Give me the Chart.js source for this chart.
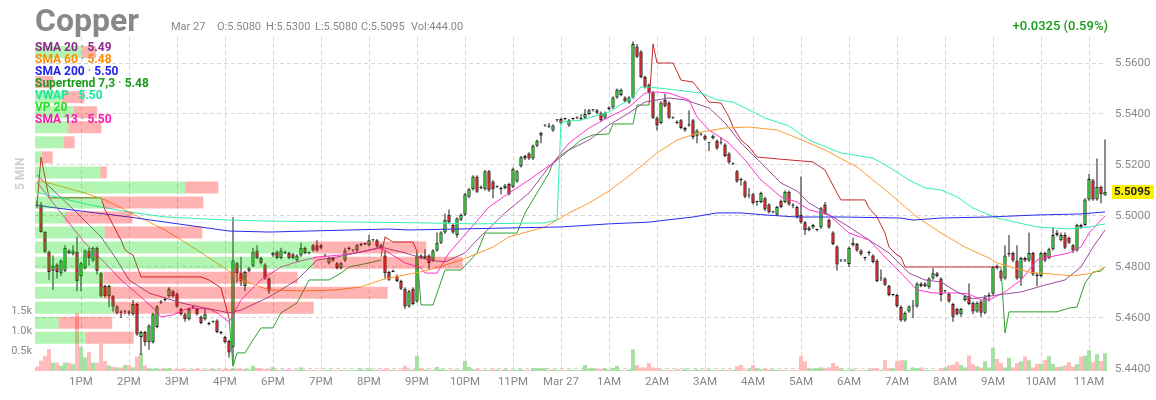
<!DOCTYPE html>
<html>
<head>
<meta charset="utf-8">
<script src="https://cdn.jsdelivr.net/npm/chart.js@4.4.1/dist/chart.umd.min.js"></script>
<style>
  body { margin: 0; background: #fff; font-family: Roboto, sans-serif; }
  #wrap { position: relative; width: 1156px; height: 400px; overflow: hidden; }
  canvas { position: absolute; left: 0; top: 0; }
  .t { position: absolute; white-space: nowrap; }
  #title { left: 35px; top: 4px; font: bold 32px/32px Roboto; color: #888; }
  .info { top: 21px; font: 11px/11px Roboto; color: #888; }
  #chg { right: 48px; top: 19px; font: 500 13px/13px Roboto; color: #1a9c1a; }
  #legend { left: 35px; top: 41px; font: bold 12px/12px Roboto; }
  #legend .dot { color: #aaa; }
  #tf { left: 1px; top: 165px; font: bold 12px/12px Roboto; color: #d0d0d0; transform: rotate(-90deg); transform-origin: 19px 6px; }
</style>
</head>
<body>
<div id="wrap">
  <canvas id="chart" width="1156" height="400"></canvas>
  <div class="t" id="title">Copper</div>
  <div class="t info" style="left:171px">Mar 27</div>
  <div class="t info" style="left:217px">O:5.5080</div>
  <div class="t info" style="left:266px">H:5.5300</div>
  <div class="t info" style="left:315px">L:5.5080</div>
  <div class="t info" style="left:361px">C:5.5095</div>
  <div class="t info" style="left:411px">Vol:444.00</div>
  <div class="t" id="chg">+0.0325 (0.59%)</div>
  <div class="t" id="tf">5 MIN</div>
  <div class="t" id="legend">
    <div style="color:#8b2f8b">SMA 20 <span class="dot">·</span> 5.49</div>
    <div style="color:#ff8c00">SMA 60 <span class="dot">·</span> 5.48</div>
    <div style="color:#2222ee">SMA 200 <span class="dot">·</span> 5.50</div>
    <div style="color:#1a9a1a">Supertrend 7,3 <span class="dot">·</span> 5.48</div>
    <div style="color:#1ee8a0">VWAP <span class="dot">·</span> 5.50</div>
    <div style="color:#22e022">VP 20</div>
    <div style="color:#ff1ab3">SMA 13 <span class="dot">·</span> 5.50</div>
  </div>
</div>
<script>
// 5 minute bars: 12:05-16:55, then 18:00-11:20
const sessions = [['12:05', 59], ['18:00', 209]];

const opens = [
  5.5045,5.5043,5.4937,5.4860,5.4785,5.4810,5.4775,5.4785,5.4865,5.4850,5.4860,
  5.4765,5.4795,5.4865,5.4825,5.4875,5.4775,5.4725,5.4685,5.4685,5.4620,5.4625,5.4625,
  5.4625,5.4615,5.4655,5.4525,5.4545,5.4505,5.4505,5.4565,5.4665,5.4670,5.4685,5.4705,
  5.4695,5.4635,5.4615,5.4595,5.4645,5.4635,5.4605,5.4595,5.4580,5.4585,5.4590,5.4545,
  5.4525,5.4510,5.4485,5.4815,5.4775,5.4725,5.4785,5.4805,5.4865,5.4835,5.4810,5.4755,
  5.4845,5.4860,5.4835,5.4860,5.4855,5.4850,5.4825,5.4845,5.4875,5.4855,5.4885,5.4885,
  5.4885,5.4845,5.4815,5.4835,5.4815,5.4795,5.4825,5.4870,5.4865,5.4865,5.4885,5.4890,
  5.4885,5.4905,5.4905,5.4885,5.4845,5.4780,5.4780,5.4765,5.4745,5.4715,5.4645,5.4715,
  5.4665,5.4845,5.4835,5.4845,5.4825,5.4865,5.4895,5.4935,5.5005,5.4965,5.4925,5.4985,
  5.5005,5.5075,5.5105,5.5155,5.5115,5.5105,5.5175,5.5135,5.5115,5.5110,5.5110,5.5125,
  5.5115,5.5135,5.5195,5.5235,5.5245,5.5225,5.5275,5.5315,5.5355,5.5355,5.5335,5.5375,
  5.5380,5.5380,5.5355,5.5380,5.5385,5.5380,5.5385,5.5400,5.5415,5.5415,5.5405,5.5385,
  5.5420,5.5425,5.5465,5.5475,5.5465,5.5445,5.5465,5.5665,5.5645,5.5545,5.5515,5.5485,
  5.5385,5.5365,5.5455,5.5445,5.5385,5.5370,5.5375,5.5335,5.5355,5.5375,5.5315,5.5320,
  5.5315,5.5285,5.5305,5.5295,5.5285,5.5280,5.5245,5.5205,5.5175,5.5145,5.5135,5.5080,
  5.5085,5.5055,5.5055,5.5070,5.5045,5.5015,5.5005,5.5060,5.5055,5.5095,5.5045,5.5035,
  5.5005,5.4975,5.4945,5.4955,5.4945,5.4955,5.5045,5.4985,5.4935,5.4880,5.4825,5.4825,
  5.4812,5.4885,5.4890,5.4865,5.4835,5.4855,5.4845,5.4825,5.4755,5.4755,5.4725,5.4690,
  5.4690,5.4643,5.4590,5.4625,5.4645,5.4645,5.4735,5.4725,5.4720,5.4755,5.4775,5.4755,
  5.4705,5.4695,5.4655,5.4635,5.4615,5.4670,5.4685,5.4660,5.4625,5.4665,5.4620,5.4685,
  5.4695,5.4805,5.4785,5.4755,5.4850,5.4855,5.4825,5.4755,5.4835,5.4825,5.4855,5.4770,
  5.4765,5.4855,5.4835,5.4870,5.4935,5.4905,5.4925,5.4915,5.4885,5.4865,5.4965,5.4965,
  5.5065,5.5140,5.5065,5.5115,5.5080
];
const highs = [
  5.5060,5.5055,5.4940,5.4865,5.4845,5.4815,5.4830,5.4885,5.4870,5.4885,5.4920,
  5.4820,5.4870,5.4875,5.4880,5.4880,5.4780,5.4730,5.4730,5.4690,5.4650,5.4630,5.4630,
  5.4630,5.4670,5.4660,5.4550,5.4550,5.4575,5.4620,5.4650,5.4670,5.4680,5.4720,5.4710,
  5.4700,5.4640,5.4620,5.4640,5.4650,5.4640,5.4610,5.4640,5.4585,5.4590,5.4595,5.4550,
  5.4530,5.4515,5.4995,5.4820,5.4840,5.4785,5.4800,5.4875,5.4885,5.4840,5.4815,5.4760,
  5.4860,5.4865,5.4875,5.4865,5.4860,5.4855,5.4850,5.4895,5.4880,5.4860,5.4890,5.4905,
  5.4890,5.4850,5.4840,5.4840,5.4820,5.4820,5.4875,5.4880,5.4870,5.4890,5.4895,5.4895,
  5.4925,5.4910,5.4910,5.4890,5.4865,5.4785,5.4790,5.4770,5.4750,5.4720,5.4710,5.4720,
  5.4860,5.4850,5.4870,5.4850,5.4870,5.4935,5.4940,5.5010,5.5025,5.4970,5.4995,5.5010,
  5.5090,5.5110,5.5160,5.5160,5.5120,5.5180,5.5180,5.5140,5.5120,5.5115,5.5125,5.5130,
  5.5190,5.5180,5.5235,5.5240,5.5250,5.5280,5.5300,5.5330,5.5360,5.5365,5.5360,5.5380,
  5.5385,5.5385,5.5380,5.5385,5.5390,5.5400,5.5420,5.5420,5.5420,5.5420,5.5410,5.5410,
  5.5430,5.5470,5.5500,5.5500,5.5470,5.5470,5.5685,5.5675,5.5650,5.5550,5.5520,5.5490,
  5.5390,5.5450,5.5480,5.5450,5.5390,5.5375,5.5380,5.5350,5.5415,5.5380,5.5340,5.5325,
  5.5320,5.5290,5.5320,5.5300,5.5310,5.5285,5.5250,5.5210,5.5180,5.5150,5.5140,5.5110,
  5.5090,5.5060,5.5095,5.5075,5.5050,5.5020,5.5040,5.5065,5.5100,5.5100,5.5050,5.5040,
  5.5155,5.4980,5.4960,5.4970,5.4950,5.5035,5.5055,5.4990,5.4940,5.4885,5.4830,5.4830,
  5.4880,5.4915,5.4895,5.4870,5.4840,5.4865,5.4850,5.4830,5.4790,5.4760,5.4730,5.4695,
  5.4695,5.4650,5.4625,5.4650,5.4670,5.4740,5.4740,5.4740,5.4760,5.4795,5.4780,5.4760,
  5.4710,5.4700,5.4660,5.4640,5.4640,5.4690,5.4735,5.4665,5.4665,5.4670,5.4690,5.4700,
  5.4805,5.4810,5.4790,5.4885,5.4925,5.4860,5.4885,5.4840,5.4840,5.4935,5.4860,5.4775,
  5.4860,5.4860,5.4875,5.4955,5.4945,5.4935,5.4935,5.4920,5.4890,5.4970,5.4970,5.5070,
  5.5165,5.5145,5.5225,5.5120,5.5300
];
const lows = [
  5.5030,5.4935,5.4855,5.4750,5.4710,5.4755,5.4765,5.4780,5.4850,5.4845,5.4705,
  5.4705,5.4790,5.4805,5.4820,5.4770,5.4680,5.4680,5.4643,5.4625,5.4615,5.4600,5.4615,
  5.4610,5.4610,5.4530,5.4455,5.4490,5.4475,5.4500,5.4560,5.4655,5.4665,5.4680,5.4680,
  5.4640,5.4610,5.4585,5.4590,5.4635,5.4610,5.4575,5.4590,5.4570,5.4580,5.4540,5.4535,
  5.4500,5.4445,5.4415,5.4740,5.4725,5.4705,5.4780,5.4800,5.4830,5.4810,5.4750,5.4695,
  5.4840,5.4830,5.4830,5.4850,5.4830,5.4830,5.4820,5.4840,5.4850,5.4850,5.4860,5.4860,
  5.4870,5.4840,5.4810,5.4820,5.4790,5.4790,5.4820,5.4865,5.4860,5.4860,5.4880,5.4885,
  5.4880,5.4900,5.4875,5.4870,5.4755,5.4745,5.4780,5.4740,5.4710,5.4635,5.4640,5.4650,
  5.4660,5.4830,5.4830,5.4790,5.4820,5.4860,5.4890,5.4930,5.4970,5.4930,5.4915,5.4980,
  5.5000,5.5070,5.5100,5.5090,5.5105,5.5100,5.5095,5.5070,5.5110,5.5085,5.5105,5.5080,
  5.5110,5.5130,5.5190,5.5220,5.5220,5.5220,5.5270,5.5285,5.5350,5.5345,5.5330,5.5370,
  5.5360,5.5375,5.5350,5.5375,5.5380,5.5375,5.5380,5.5395,5.5410,5.5400,5.5370,5.5380,
  5.5415,5.5420,5.5460,5.5470,5.5445,5.5440,5.5460,5.5620,5.5540,5.5500,5.5480,5.5380,
  5.5335,5.5360,5.5425,5.5380,5.5380,5.5360,5.5340,5.5330,5.5350,5.5300,5.5285,5.5315,
  5.5295,5.5255,5.5300,5.5260,5.5280,5.5230,5.5205,5.5200,5.5130,5.5120,5.5070,5.5070,
  5.5045,5.5040,5.5050,5.5020,5.5010,5.5010,5.5000,5.5030,5.5050,5.5040,5.5030,5.4990,
  5.4970,5.4925,5.4940,5.4950,5.4940,5.4950,5.5005,5.4950,5.4885,5.4785,5.4820,5.4820,
  5.4800,5.4880,5.4860,5.4845,5.4825,5.4845,5.4815,5.4740,5.4745,5.4725,5.4685,5.4685,
  5.4640,5.4585,5.4585,5.4620,5.4600,5.4640,5.4720,5.4720,5.4715,5.4750,5.4760,5.4665,
  5.4700,5.4660,5.4585,5.4610,5.4605,5.4665,5.4650,5.4615,5.4620,5.4605,5.4615,5.4665,
  5.4690,5.4790,5.4745,5.4750,5.4840,5.4820,5.4750,5.4725,5.4820,5.4820,5.4765,5.4725,
  5.4760,5.4820,5.4830,5.4865,5.4920,5.4900,5.4870,5.4890,5.4855,5.4860,5.4950,5.4960,
  5.5060,5.5060,5.5060,5.5050,5.5080
];
const closes = [
  5.5040,5.4937,5.4860,5.4780,5.4805,5.4780,5.4825,5.4875,5.4855,5.4865,5.4745,
  5.4815,5.4865,5.4835,5.4875,5.4785,5.4685,5.4685,5.4725,5.4645,5.4645,5.4620,5.4625,
  5.4620,5.4655,5.4535,5.4545,5.4505,5.4570,5.4615,5.4645,5.4660,5.4675,5.4715,5.4685,
  5.4645,5.4615,5.4595,5.4635,5.4640,5.4615,5.4580,5.4615,5.4575,5.4585,5.4545,5.4540,
  5.4505,5.4465,5.4825,5.4775,5.4745,5.4780,5.4795,5.4860,5.4835,5.4815,5.4755,5.4705,
  5.4855,5.4835,5.4865,5.4855,5.4835,5.4835,5.4845,5.4875,5.4855,5.4855,5.4865,5.4865,
  5.4875,5.4845,5.4835,5.4825,5.4795,5.4815,5.4865,5.4875,5.4865,5.4885,5.4890,5.4890,
  5.4905,5.4905,5.4880,5.4875,5.4775,5.4750,5.4785,5.4745,5.4715,5.4645,5.4705,5.4655,
  5.4845,5.4835,5.4845,5.4815,5.4865,5.4895,5.4935,5.4985,5.4975,5.4935,5.4990,5.5005,
  5.5085,5.5105,5.5155,5.5095,5.5110,5.5175,5.5100,5.5105,5.5115,5.5105,5.5120,5.5085,
  5.5185,5.5175,5.5230,5.5225,5.5225,5.5275,5.5295,5.5325,5.5355,5.5350,5.5355,5.5375,
  5.5365,5.5380,5.5375,5.5380,5.5385,5.5380,5.5400,5.5415,5.5415,5.5405,5.5375,5.5405,
  5.5425,5.5465,5.5495,5.5495,5.5450,5.5465,5.5675,5.5625,5.5545,5.5505,5.5485,5.5385,
  5.5355,5.5445,5.5430,5.5385,5.5385,5.5365,5.5345,5.5345,5.5360,5.5310,5.5335,5.5320,
  5.5300,5.5285,5.5315,5.5265,5.5285,5.5235,5.5210,5.5205,5.5135,5.5140,5.5075,5.5080,
  5.5050,5.5055,5.5090,5.5025,5.5015,5.5015,5.5035,5.5035,5.5095,5.5045,5.5040,5.4995,
  5.4975,5.4945,5.4955,5.4965,5.4945,5.5030,5.5010,5.4955,5.4890,5.4810,5.4825,5.4825,
  5.4875,5.4895,5.4865,5.4850,5.4835,5.4855,5.4820,5.4745,5.4755,5.4730,5.4690,5.4690,
  5.4647,5.4590,5.4620,5.4645,5.4645,5.4735,5.4725,5.4735,5.4755,5.4775,5.4765,5.4690,
  5.4705,5.4665,5.4605,5.4615,5.4635,5.4685,5.4655,5.4625,5.4660,5.4620,5.4680,5.4690,
  5.4800,5.4795,5.4755,5.4845,5.4855,5.4825,5.4755,5.4835,5.4825,5.4855,5.4770,5.4765,
  5.4855,5.4825,5.4870,5.4925,5.4925,5.4925,5.4875,5.4895,5.4865,5.4965,5.4955,5.5065,
  5.5145,5.5065,5.5115,5.5085,5.5095
];
// volume in thousands
const volumes = [
  0.11,0.26,0.38,0.55,0.21,0.21,0.13,0.21,0.21,0.17,1.45,
  0.60,0.34,0.47,0.21,0.21,0.68,0.25,0.14,0.11,0.09,0.09,0.15,
  0.15,0.09,0.36,0.45,0.14,0.06,0.06,0.07,0.05,0.06,0.07,0.04,
  0.04,0.05,0.04,0.03,0.04,0.05,0.04,0.03,0.04,0.05,0.04,0.04,
  0.05,0.05,0.07,0.06,0.05,0.05,0.04,0.13,0.08,0.06,0.05,0.04,
  0.10,0.03,0.03,0.04,0.04,0.03,0.03,0.09,0.03,0.02,0.03,0.02,
  0.02,0.02,0.03,0.02,0.02,0.03,0.02,0.02,0.02,0.03,0.06,0.03,
  0.06,0.03,0.04,0.03,0.06,0.04,0.03,0.03,0.03,0.13,0.04,0.04,
  0.38,0.07,0.04,0.03,0.03,0.10,0.05,0.03,0.03,0.04,0.03,0.03,
  0.25,0.10,0.04,0.05,0.03,0.03,0.03,0.04,0.04,0.03,0.05,0.03,
  0.03,0.03,0.04,0.03,0.03,0.07,0.07,0.07,0.07,0.03,0.04,0.03,
  0.03,0.02,0.03,0.03,0.02,0.03,0.15,0.06,0.08,0.05,0.05,0.07,
  0.03,0.08,0.13,0.02,0.02,0.04,0.54,0.15,0.09,0.09,0.20,0.09,
  0.07,0.04,0.03,0.03,0.02,0.05,0.03,0.06,0.03,0.03,0.04,0.03,
  0.03,0.04,0.02,0.03,0.03,0.03,0.03,0.03,0.12,0.15,0.03,0.06,
  0.15,0.07,0.04,0.05,0.04,0.04,0.03,0.03,0.02,0.02,0.02,0.02,
  0.37,0.24,0.07,0.05,0.07,0.09,0.07,0.09,0.20,0.12,0.06,0.02,
  0.02,0.05,0.02,0.02,0.02,0.04,0.07,0.07,0.03,0.27,0.07,0.07,
  0.25,0.27,0.27,0.03,0.09,0.07,0.09,0.03,0.02,0.02,0.02,0.06,
  0.09,0.14,0.16,0.23,0.15,0.09,0.39,0.17,0.12,0.09,0.24,0.09,
  0.58,0.30,0.20,0.09,0.33,0.09,0.20,0.24,0.36,0.27,0.09,0.18,
  0.18,0.27,0.37,0.18,0.10,0.11,0.14,0.22,0.11,0.17,0.36,0.38,
  0.52,0.22,0.42,0.25,0.444
];

// volume profile (VP 20): row price, buy and sell volume
const vpPrice = [5.5643,5.5584,5.5525,5.5466,5.5407,5.5348,5.5289,5.5230,5.5171,5.5112,
                 5.5053,5.4994,5.4935,5.4876,5.4817,5.4758,5.4699,5.4640,5.4581,5.4522];
const vpBuy  = [4.4,0,0,2.5,3.6,3.1,2.7,0.65,6.1,14.0,6.3,2.8,6.5,25.9,25.9,6.4,6.4,7.3,2.2,4.7];
const vpSell = [1.3,0,1.7,2.1,2.2,3.1,1.0,1.0,0.6,3.1,9.4,6.3,9.1,10.6,14.0,18.1,26.5,18.7,5.0,4.5];

// indicator lines as [bar index, value]
const sma20 = [[0,5.5161],[4,5.5102],[10,5.5012],[16,5.4918],[20,5.4827],[23,5.4749],[28,5.4698],
  [36,5.4659],[42,5.4639],[48,5.4620],[51,5.4631],[58,5.4682],[65,5.4749],[70,5.4827],[75,5.4839],
  [81,5.4859],[86,5.4878],[92,5.4855],[98,5.4827],[102,5.4820],[107,5.4855],[110,5.4906],[117,5.5012],
  [123,5.5090],[128,5.5192],[133,5.5259],[138,5.5298],[143,5.5357],[148,5.5404],[152,5.5447],
  [158,5.5463],[162,5.5455],[168,5.5424],[172,5.5365],[176,5.5286],[181,5.5208],[186,5.5129],
  [190,5.5098],[193,5.5051],[199,5.4996],[203,5.4957],[208,5.4906],[213,5.4855],[218,5.4776],
  [222,5.4749],[226,5.4741],[230,5.4702],[234,5.4675],[240,5.4690],[246,5.4702],[252,5.4729],
  [257,5.4749],[261,5.4800],[264,5.4878],[267,5.4945]];
const sma60 = [[0,5.5141],[3,5.5129],[12,5.5090],[17,5.5063],[23,5.5016],[32,5.4945],[40,5.4867],
  [48,5.4784],[51,5.4749],[58,5.4710],[67,5.4706],[75,5.4710],[81,5.4722],[86,5.4749],[92,5.4769],
  [98,5.4788],[106,5.4827],[114,5.4878],[118,5.4918],[127,5.4957],[133,5.5012],[138,5.5051],
  [143,5.5098],[149,5.5169],[155,5.5247],[160,5.5298],[166,5.5329],[172,5.5345],[178,5.5349],
  [185,5.5337],[190,5.5306],[197,5.5259],[205,5.5192],[213,5.5090],[220,5.4996],[226,5.4933],
  [232,5.4878],[238,5.4835],[240,5.4816],[248,5.4780],[253,5.4773],[259,5.4765],[264,5.4776],[267,5.4800]];
const sma200 = [[0,5.5043],[3,5.5035],[23,5.4996],[48,5.4941],[58,5.4937],[88,5.4949],[93,5.4945],
  [118,5.4953],[131,5.4957],[143,5.4969],[153,5.4976],[164,5.4996],[170,5.5012],[176,5.5012],
  [182,5.5004],[190,5.4996],[201,5.4996],[216,5.4992],[219,5.4984],[226,5.4992],[238,5.4996],
  [250,5.5004],[261,5.5008],[267,5.5016]];
const sma13 = [[0,5.5133],[3,5.5071],[8,5.4973],[12,5.4894],[17,5.4816],[21,5.4749],[26,5.4682],
  [29,5.4639],[31,5.4604],[34,5.4612],[38,5.4639],[43,5.4635],[45,5.4620],[48,5.4584],[49,5.4612],
  [51,5.4671],[56,5.4749],[61,5.4800],[65,5.4820],[70,5.4839],[76,5.4847],[81,5.4859],[86,5.4875],
  [92,5.4816],[96,5.4796],[97,5.4776],[100,5.4776],[103,5.4855],[108,5.4945],[113,5.5035],
  [118,5.5090],[123,5.5141],[129,5.5208],[133,5.5286],[138,5.5345],[143,5.5388],[148,5.5427],
  [152,5.5482],[155,5.5486],[158,5.5482],[163,5.5455],[165,5.5388],[168,5.5337],[173,5.5286],
  [177,5.5220],[181,5.5141],[186,5.5075],[190,5.5055],[193,5.5024],[198,5.5004],[203,5.4933],
  [208,5.4906],[212,5.4839],[216,5.4776],[220,5.4710],[224,5.4698],[230,5.4698],[233,5.4694],
  [236,5.4671],[238,5.4671],[242,5.4702],[246,5.4749],[250,5.4827],[253,5.4839],[258,5.4855],
  [261,5.4878],[263,5.4933],[267,5.5000]];
const vwap = [[0,5.5090],[3,5.5082],[11,5.5051],[16,5.5035],[23,5.5016],[32,5.4996],[48,5.4984],
  [58,5.4980],[81,5.4976],[96,5.4973],[110,5.4969],[127,5.4973],[130,5.4984],[131,5.5369],
  [136,5.5376],[143,5.5408],[149,5.5467],[151,5.5506],[153,5.5506],[162,5.5490],[166,5.5482],
  [170,5.5455],[174,5.5447],[178,5.5416],[182,5.5384],[188,5.5353],[193,5.5298],[201,5.5247],
  [209,5.5227],[213,5.5192],[218,5.5141],[222,5.5110],[226,5.5102],[230,5.5075],[234,5.5031],
  [240,5.4992],[250,5.4957],[258,5.4949],[263,5.4957],[267,5.4969]];
const stUp = [[48,5.4600],[49,5.4410],[50,5.4463],[52,5.4463],[54,5.4514],[56,5.4561],[59,5.4561],
  [61,5.4620],[65,5.4659],[68,5.4749],[73,5.4749],[76,5.4776],[78,5.4800],[83,5.4816],[86,5.4827],
  [87,null],
  [95,5.4860],[96,5.4651],[99,5.4651],[102,5.4788],[106,5.4788],[110,5.4855],[112,5.4933],
  [120,5.4933],[122,5.5012],[125,5.5090],[128,5.5169],[129,5.5208],[131,5.5239],[134,5.5271],
  [136,5.5298],[139,5.5318],[143,5.5322],[144,5.5361],[149,5.5361],[150,5.5435],[153,5.5435],
  [154,null],
  [241,5.4800],[242,5.4541],[243,5.4624],[255,5.4624],[258,5.4639],[260,5.4643],[262,5.4737],
  [264,5.4780],[266,5.4784],[267,5.4800]];
const stDown = [[0,5.5043],[1,5.5231],[3,5.5071],[16,5.5071],[17,5.5024],[18,5.4996],[19,5.4965],
  [21,5.4906],[22,5.4867],[23,5.4855],[24,5.4847],[26,5.4761],[41,5.4761],[43,5.4749],[46,5.4718],
  [48,5.4600],[49,null],
  [86,5.4840],[87,5.4918],[89,5.4898],[94,5.4898],[95,5.4860],[96,null],
  [153,5.5435],[154,5.5675],[155,5.5600],[159,5.5600],[161,5.5533],[164,5.5525],[166,5.5486],
  [168,5.5447],[171,5.5443],[173,5.5388],[174,5.5349],[176,5.5298],[178,5.5271],[180,5.5231],
  [183,5.5227],[185,5.5224],[194,5.5212],[197,5.5180],[200,5.5090],[201,5.5063],[207,5.5063],
  [208,5.5031],[210,5.4996],[212,5.4933],[213,5.4878],[215,5.4847],[216,5.4839],[217,5.4800],
  [241,5.4800],[242,null]];

const priceTicks = [5.44, 5.46, 5.48, 5.50, 5.52, 5.54, 5.56];
const volTicks = [0.5, 1.0, 1.5];
const tickTimes = ['13:00','14:00','15:00','16:00','18:00','19:00','20:00','21:00','22:00','23:00','00:00',
  '01:00','02:00','03:00','04:00','05:00','06:00','07:00','08:00','09:00','10:00','11:00'];
const tickTexts = ['1PM','2PM','3PM','4PM','6PM','7PM','8PM','9PM','10PM','11PM','Mar 27',
  '1AM','2AM','3AM','4AM','5AM','6AM','7AM','8AM','9AM','10AM','11AM'];

const labels = [];
for (const [start, count] of sessions) {
  const [h, m] = start.split(':').map(Number);
  for (let k = 0; k < count; k++) {
    const t = (h * 60 + m + 5 * k) % 1440;
    labels.push(String(Math.floor(t / 60)).padStart(2, '0') + ':' + String(t % 60).padStart(2, '0'));
  }
}
const N = labels.length;
const isUp = closes.map((c, i) => c >= opens[i]);
const gridCol = '#d6d6d6';

Chart.defaults.font.family = 'Roboto';

const lastTag = {
  id: 'lastTag',
  afterDraw(chart) {
    const {ctx, scales: {y}} = chart;
    const v = closes[closes.length - 1];
    const py = Math.round(y.getPixelForValue(v));
    ctx.save();
    ctx.fillStyle = '#fff200';
    ctx.fillRect(y.left + 5, py - 7, 42, 14);
    ctx.fillStyle = '#222';
    ctx.font = 'bold 11.5px Roboto';
    ctx.textBaseline = 'middle';
    ctx.fillText(v.toFixed(4), y.left + 7, py + 0.5);
    ctx.restore();
  }
};

function lineSet(data, color, order) {
  return { type: 'line', xAxisID: 'xl', yAxisID: 'y', data, borderColor: color, borderWidth: 1,
           pointRadius: 0, tension: 0, spanGaps: false, order };
}
function barBase(extra) {
  return Object.assign({ type: 'bar', grouped: false, inflateAmount: 0, borderSkipped: false }, extra);
}

new Chart(document.getElementById('chart'), {
  data: {
    labels,
    datasets: [
      barBase({ indexAxis: 'y', xAxisID: 'xVP', yAxisID: 'y', barThickness: 12, order: 0,
        data: vpPrice.map((p, k) => ({ x: [0, vpBuy[k]], y: p })), backgroundColor: 'rgba(0,222,0,0.3)' }),
      barBase({ indexAxis: 'y', xAxisID: 'xVP', yAxisID: 'y', barThickness: 12, order: 0,
        data: vpPrice.map((p, k) => ({ x: [vpBuy[k], vpBuy[k] + vpSell[k]], y: p })), backgroundColor: 'rgba(255,0,0,0.3)' }),
      lineSet(sma200, '#2a2aee', 1),
      lineSet(vwap, '#33eeb0', 1),
      lineSet(sma60, '#ff9a30', 1),
      lineSet(sma20, '#9c4c9c', 1),
      lineSet(sma13, '#ff33cc', 1),
      lineSet(stUp, '#2f9f2f', 1),
      lineSet(stDown, '#c42b2b', 1),
      barBase({ xAxisID: 'x', yAxisID: 'y', order: 2, barThickness: 3.4, borderWidth: 1, minBarLength: 1,
        data: opens.map((o, i) => [o, closes[i]]),
        backgroundColor: isUp.map(u => u ? '#22dd22' : '#ee1111'), borderColor: '#1a1a1a' }),
      barBase({ xAxisID: 'x', yAxisID: 'y', order: 3, barThickness: 1,
        data: lows.map((l, i) => [l, highs[i]]), backgroundColor: '#1a1a1a' }),
      barBase({ xAxisID: 'x', yAxisID: 'yVol', order: 4, barThickness: 4,
        data: volumes, backgroundColor: isUp.map(u => u ? '#a8dfa2' : '#ffbcbc') })
    ]
  },
  options: {
    responsive: false,
    animation: false,
    devicePixelRatio: 1,
    layout: { padding: { top: 37, left: 0, right: 0, bottom: 0 } },
    plugins: { legend: { display: false }, tooltip: { enabled: false } },
    scales: {
      x: {
        type: 'category', offset: true,
        grid: { offset: false, drawTicks: false, color: gridCol },
        border: { display: false, dash: [4, 3] },
        ticks: { autoSkip: false, maxRotation: 0, padding: 4, color: '#888', font: { size: 11.5 },
          callback: (v, i) => { const k = tickTimes.indexOf(labels[i]); return k < 0 ? null : tickTexts[k]; } },
        afterFit: s => { s.height = 29; }
      },
      xl: { type: 'linear', display: false, min: -0.5, max: N - 0.5, offset: false },
      xVP: { type: 'linear', axis: 'x', display: false, min: 0, max: 100, offset: false },
      y: {
        type: 'linear', position: 'right', min: 5.4392, max: 5.5702, offset: false,
        grid: { offset: false, color: gridCol, drawTicks: false },
        border: { display: false, dash: [4, 3] },
        afterBuildTicks: s => { s.ticks = priceTicks.map(v => ({ value: v })); },
        ticks: { padding: 8, color: '#888', font: { size: 11.5 }, callback: v => v.toFixed(4) },
        afterFit: s => { s.width = 49; }
      },
      yVol: {
        type: 'linear', position: 'left', min: 0, max: 8.35, offset: false,
        grid: { display: false, drawTicks: false },
        border: { display: false },
        afterBuildTicks: s => { s.ticks = volTicks.map(v => ({ value: v })); },
        ticks: { padding: 3, color: '#888', font: { size: 11 }, callback: v => v.toFixed(1) + 'k' },
        afterFit: s => { s.width = 35; }
      }
    }
  },
  plugins: [lastTag]
});
</script>
</body>
</html>
